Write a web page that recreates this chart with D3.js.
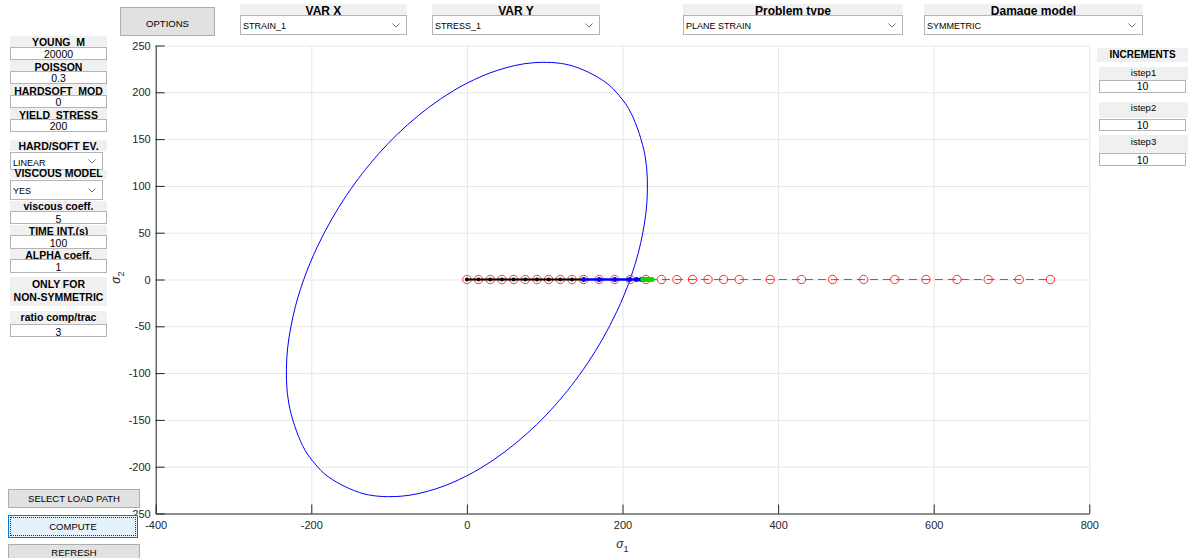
<!DOCTYPE html>
<html>
<head>
<meta charset="utf-8">
<script src="https://cdn.jsdelivr.net/npm/d3@7"></script>
<style>
  body { margin: 0; width: 1188px; height: 558px; overflow: hidden; background: #fff;
         font-family: "Liberation Sans", Arial, sans-serif; position: relative; }
  .ui { position: absolute; box-sizing: border-box; overflow: hidden; white-space: nowrap; color: #000; }
  .ui span { position: absolute; left: 0; right: 0; text-align: center; line-height: 12px; }
  .lab { background: #f0f0f0; font-weight: bold; overflow: visible; }
  .edit { background: #fff; border: 1px solid #b4b4b4; font-size: 10.5px; }
  .pop { background: #fff; border: 1px solid #b4b4b4; font-size: 9px; }
  .pop span { text-align: left; left: 2px; }
  .btn { background: #e1e1e1; border: 1px solid #adadad; font-size: 9.5px; }
  .focus { background: #e5f1fb; border: 1px solid #0078d7; }
  svg text { font-family: "Liberation Sans", Helvetica, Arial, sans-serif; }
</style>
</head>
<body>
<script>
// ---- data ----
const xTicks = [-400, -200, 0, 200, 400, 600, 800];
const yTicks = [-250, -200, -150, -100, -50, 0, 50, 100, 150, 200, 250];

// imposed load path (red dashed, circles), sigma_2 = 0
const pathX = [0, 15, 30, 45, 60, 75, 90, 105, 120, 135, 150,
               170, 190, 210, 230, 250, 270, 290, 310, 330, 350,
               390, 430, 470, 510, 550, 590, 630, 670, 710, 750];
const pathY = [0, 0, 0, 0, 0, 0, 0, 0, 0, 0, 0,
               0, 0, 0, 0, 0, 0, 0, 0, 0, 0,
               0, 0, 0, 0, 0, 0, 0, 0, 0, 0];

// computed stress, stage 1 (black), stage 2 (blue), stage 3 (green)
const stage1X = [0, 15, 30, 45, 60, 75, 90, 105, 120, 135, 150];
const stage1Y = [0, 0, 0, 0, 0, 0, 0, 0, 0, 0, 0];
const stage2X = [150, 170, 190, 209, 218, 224, 228, 231];
const stage2Y = [0, 0, 0, 0, 0, 0, 0, 0];
const stage3X = [226, 229, 232, 235, 238];
const stage3Y = [0, 0, 0, 0, 0];

// damage surface (blue ellipse)
const surfX = [209.7, 223.5, 231.5, 229.0, 211.3, 196.1, 177.3, 132.2, 84.2, 39.4,
               0, -34.0, -63.5, -89.5, -113.0, -124.0, -134.7, -155.1, -174.4, -192.8,
               -209.7, -223.5, -231.5, -229.0, -211.3, -196.1, -177.3, -132.2, -84.2, -39.4,
               0, 34.0, 63.5, 89.5, 113.0, 124.0, 134.7, 155.1, 174.4, 192.8];
const surfY = [0, 39.4, 84.2, 132.2, 177.3, 196.1, 211.3, 229.0, 231.5, 223.5,
               209.7, 192.8, 174.4, 155.1, 134.7, 124.0, 113.0, 89.5, 63.5, 34.0,
               0, -39.4, -84.2, -132.2, -177.3, -196.1, -211.3, -229.0, -231.5, -223.5,
               -209.7, -192.8, -174.4, -155.1, -134.7, -124.0, -113.0, -89.5, -63.5, -34.0];

// ---- chart ----
const W = 1188, H = 558;
const pL = 155.7, pR = 1089.3, pT = 45.5, pB = 513.5;
const ink = "#262626";

const svg = d3.select("body").append("svg")
  .attr("width", W).attr("height", H)
  .style("position", "absolute").style("left", 0).style("top", 0);

const x = d3.scaleLinear().domain([-400, 800]).range([pL, pR]);
const y = d3.scaleLinear().domain([-250, 250]).range([pB, pT]);
const fmt = d => String(d);

// grid
svg.append("g").attr("transform", "translate(0," + pB + ")")
  .call(d3.axisBottom(x).tickValues(xTicks).tickSize(-(pB - pT)).tickFormat(""))
  .call(g => g.select(".domain").remove())
  .call(g => g.selectAll("line").attr("stroke", "#e6e6e6"));
svg.append("g").attr("transform", "translate(" + pL + ",0)")
  .call(d3.axisLeft(y).tickValues(yTicks).tickSize(-(pR - pL)).tickFormat(""))
  .call(g => g.select(".domain").remove())
  .call(g => g.selectAll("line").attr("stroke", "#e6e6e6"));

// axes, ticks pointing inward
const xAxis = svg.append("g").attr("transform", "translate(0," + pB + ")")
  .call(d3.axisBottom(x).tickValues(xTicks).tickFormat(fmt)
    .tickSizeInner(-9).tickSizeOuter(0).tickPadding(8));
const yAxis = svg.append("g").attr("transform", "translate(" + pL + ",0)")
  .call(d3.axisLeft(y).tickValues(yTicks).tickFormat(fmt)
    .tickSizeInner(-9).tickSizeOuter(0).tickPadding(5));
[xAxis, yAxis].forEach(a => {
  a.select(".domain").attr("stroke", ink);
  a.selectAll("line").attr("stroke", ink);
  a.selectAll("text").attr("fill", ink).style("font-size", "11px")
    .style("font-family", "'Liberation Sans', Helvetica, Arial, sans-serif");
});

// axis labels
const xl = svg.append("text").attr("x", (pL + pR) / 2).attr("y", 548)
  .attr("text-anchor", "middle").attr("fill", ink).style("font-size", "12px");
xl.append("tspan").style("font-style", "italic").text("σ");
xl.append("tspan").attr("dy", 4).style("font-size", "9px").text("1");

const yl = svg.append("text")
  .attr("transform", "translate(120," + ((pT + pB) / 2 - 2) + ") rotate(-90)")
  .attr("text-anchor", "middle").attr("fill", ink).style("font-size", "12px");
yl.append("tspan").style("font-style", "italic").text("σ");
yl.append("tspan").attr("dy", 4).style("font-size", "9px").text("2");

// damage surface
const surf = surfX.map((d, i) => [d, surfY[i]]);
svg.append("path").datum(surf)
  .attr("d", d3.line().x(d => x(d[0])).y(d => y(d[1])).curve(d3.curveCatmullRomClosed))
  .attr("fill", "none").attr("stroke", "#0000ff").attr("stroke-width", 1);

// load path
const lp = pathX.map((d, i) => [d, pathY[i]]);
const line = d3.line().x(d => x(d[0])).y(d => y(d[1]));
svg.append("path").datum(lp).attr("d", line)
  .attr("fill", "none").attr("stroke", "#ff3030").attr("stroke-width", 1)
  .attr("stroke-dasharray", "8,5");
svg.append("g").selectAll("circle").data(lp).join("circle")
  .attr("cx", d => x(d[0])).attr("cy", d => y(d[1])).attr("r", 4.2)
  .attr("fill", "none").attr("stroke", "#ff3030").attr("stroke-width", 1);

// computed stresses
[[stage1X, stage1Y, "#000000", 2], [stage2X, stage2Y, "#0000ff", 2.5], [stage3X, stage3Y, "#00e000", 3.5]]
  .forEach(([sx, sy, c, w]) => {
    const pts = sx.map((d, i) => [d, sy[i]]);
    svg.append("path").datum(pts).attr("d", line)
      .attr("fill", "none").attr("stroke", c).attr("stroke-width", w);
    svg.append("g").selectAll("circle").data(pts).join("circle")
      .attr("cx", d => x(d[0])).attr("cy", d => y(d[1])).attr("r", w === 2 ? 2 : 2.5)
      .attr("fill", c);
  });

// ---- controls ----
const body = d3.select("body");
function box(cls, x0, y0, w, h) {
  return body.append("div").attr("class", "ui " + cls)
    .style("left", x0 + "px").style("top", y0 + "px")
    .style("width", w + "px").style("height", h + "px");
}
// put text so its baseline lands on page y = base
function txt(el, t, y0, base, fs, border) {
  const off = (12 - 1.117 * fs) / 2 + 0.905 * fs;
  el.append("span").style("top", (base - y0 - off - (border ? 1 : 0)) + "px").text(t);
}
function label(t, x0, y0, w, h, base, fs) {
  const el = box("lab", x0, y0, w, h).style("font-size", fs + "px");
  txt(el, t, y0, base, fs, false);
  return el;
}
function edit(t, x0, y0, w, h, base) {
  txt(box("edit", x0, y0, w, h), t, y0, base, 10.5, true);
}
function popup(t, x0, y0, w, h, base) {
  const el = box("pop", x0, y0, w, h);
  txt(el, t, y0, base, 9, true);
  el.append("svg").attr("width", 8).attr("height", 5)
    .style("position", "absolute").style("right", "6px").style("top", (h / 2 - 3) + "px")
    .append("path").attr("d", "M0.5,0.5L4,4L7.5,0.5").attr("fill", "none").attr("stroke", "#707070");
}
function button(t, x0, y0, w, h, base, cls) {
  txt(box("btn " + (cls || ""), x0, y0, w, h), t, y0, base, 9.5, true);
}

// top row
button("OPTIONS", 120, 7, 95, 29, 27);
const tops = [["VAR X", "STRAIN_1", 240, 167], ["VAR Y", "STRESS_1", 432, 168],
              ["Problem type", "PLANE STRAIN", 683, 220], ["Damage model", "SYMMETRIC", 924, 219]];
tops.forEach(([l, v, x0, w]) => {
  label(l, x0, 4, w, 11, 15, 12);
  popup(v, x0, 15, w, 20, 29);
});

// left column
const lw = 97;
label("YOUNG_M", 10, 36, lw, 11, 46, 10.5); edit("20000", 10, 47, lw, 13, 57.3);
label("POISSON", 10, 60, lw, 10.5, 70.5, 10.5); edit("0.3", 10, 70.5, lw, 13, 81.5);
label("HARDSOFT_MOD", 10, 84, lw, 10.5, 94.5, 10.5); edit("0", 10, 94.5, lw, 13, 105.5);
label("YIELD_STRESS", 10, 108, lw, 11, 119, 10.5); edit("200", 10, 119, lw, 13, 130);
label("HARD/SOFT EV.", 10, 140, lw, 11, 150, 10.5);
popup("LINEAR", 10, 152, 93, 18, 165.7);
label("VISCOUS MODEL", 10, 169.5, lw, 9, 177, 10.5);
popup("YES", 10, 180, 93, 20, 194.3);
label("viscous coeff.", 10, 201, lw, 9.5, 210, 10.5); edit("5", 10, 210.5, lw, 13.5, 222.3);
label("TIME INT.(s)", 10, 225, lw, 10, 234.5, 10.5); edit("100", 10, 235, lw, 14, 246.7);
label("ALPHA coeff.", 10, 249, lw, 10, 259, 10.5); edit("1", 10, 259.3, lw, 13.4, 270.7);
const only = label("ONLY FOR", 10, 277, lw, 29, 287.5, 10.5);
txt(only, "NON-SYMMETRIC", 277, 300.5, 10.5, false);
label("ratio comp/trac", 10, 311, lw, 12.5, 320.5, 10.5); edit("3", 10, 324, lw, 13, 335.7);

// right column
label("INCREMENTS", 1097, 47.5, 91, 14, 58.5, 10);
const steps = [["istep1", "10", 66.5, 76, 80, 90], ["istep2", "10", 101.5, 111.5, 118.5, 128.3],
               ["istep3", "10", 135, 145, 153, 163.3]];
steps.forEach(([l, v, ly, lb, ey, eb]) => {
  label(l, 1099, ly, 89, ey - ly - 0.5, lb, 9.5).style("font-weight", "normal");
  edit(v, 1099, ey, 87, 12.5, eb);
});

// bottom buttons (drawn over the axis labels)
button("SELECT LOAD PATH", 8, 489, 132, 19, 502);
const comp = box("btn focus", 8, 515, 130, 23);
comp.append("div").style("position", "absolute").style("left", "1px").style("top", "1px")
  .style("right", "1px").style("bottom", "1px").style("border", "1px dotted #333");
txt(comp, "COMPUTE", 515, 530, 9.5, true);
button("REFRESH", 8, 544, 132, 20, 556.5);
</script>
</body>
</html>
